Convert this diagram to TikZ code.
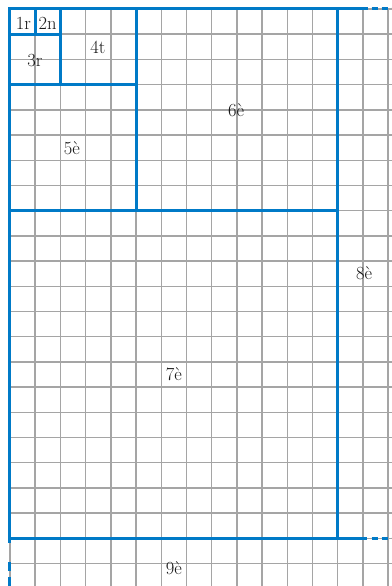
\documentclass[tikz,border=0pt]{standalone}
\definecolor{blueline}{RGB}{0,122,199}
\definecolor{gridgray}{RGB}{165,165,165}
\tikzset{
  gridline/.style={draw=gridgray,line width=1.4pt},
  bluesolid/.style={draw=blueline,line width=3pt,line cap=rect,line join=miter},
  bluedash/.style={draw=blueline,line width=3pt,dash pattern=on 6pt off 4pt},
  bluedashv/.style={draw=blueline,line width=3pt,dash pattern=on 9pt off 6pt},
  lbl/.style={inner sep=0pt,font=\fontsize{18.5}{21}\selectfont,text=black!90}
}
\begin{document}
\begin{tikzpicture}[x=25.2pt,y=-25.2pt]
\useasboundingbox[fill=white] (-0.3968,-0.3571) rectangle (15.1587,22.8968);
% grid
\foreach \i in {0,...,15} \draw[gridline] (\i,0) -- (\i,22.9);
\foreach \j in {0,...,22} \draw[gridline] (0,\j) -- (15.16,\j);
% blue squares
\draw[bluesolid] (0,21.15) -- (0,0) -- (14.15,0);
\draw[bluedash] (14.35,0) -- (15.16,0);
\draw[bluesolid] (0,21) -- (14.1,21);
\draw[bluedash] (14.35,21) -- (15.16,21);
\draw[bluedashv] (0,21.95) -- (0,22.9);
\draw[bluesolid] (13,0) -- (13,21);
\draw[bluesolid] (0,8) -- (13,8);
\draw[bluesolid] (5,0) -- (5,8);
\draw[bluesolid] (0,3) -- (5,3);
\draw[bluesolid] (2,0) -- (2,3);
\draw[bluesolid] (0,1) -- (2,1);
\draw[bluesolid] (1,0) -- (1,1);
% labels
\node[lbl] (l1) at (0.53,0.58) {1r};
\node[lbl] (l2) at (1.49,0.58) {2n};
\node[lbl] (l3) at (0.99,2.06) {3r};
\node[lbl] (l4) at (3.49,1.51) {4t};
\node[lbl] (l5) at (2.46,5.52) {5è};
\node[lbl] (l6) at (8.97,4.0) {6è};
\node[lbl] (l7) at (6.5,14.5) {7è};
\node[lbl] (l8) at (14.05,10.48) {8è};
\node[lbl] (l9) at (6.5,22.2) {9è};
\end{tikzpicture}
\end{document}
